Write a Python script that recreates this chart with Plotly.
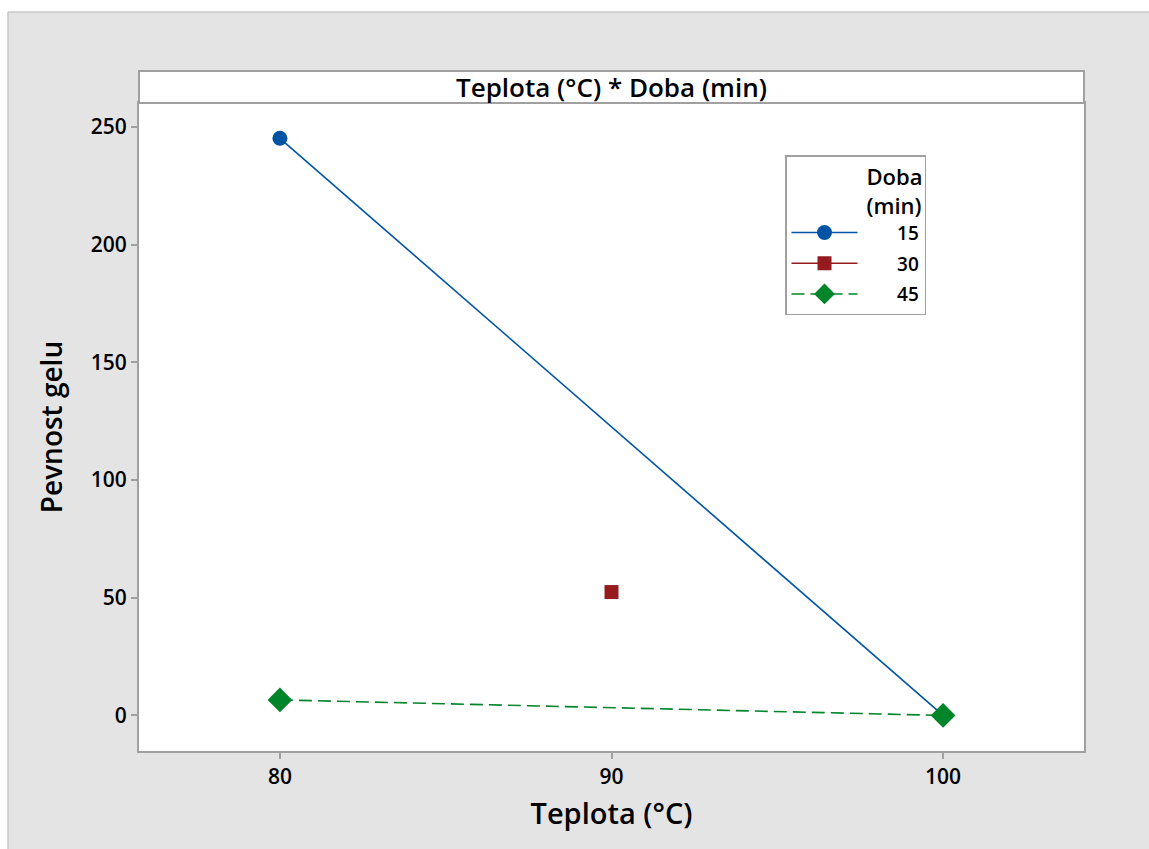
import plotly.graph_objects as go

# Interaction plot data: gel strength vs temperature for each time level
teplota_15 = [80, 100]
pevnost_15 = [245.1, 0.0]
teplota_30 = [90]
pevnost_30 = [52.4]
teplota_45 = [80, 100]
pevnost_45 = [6.6, 0.0]

x_ticks = [80, 90, 100]
y_ticks = [0, 50, 100, 150, 200, 250]

W, H = 1149, 849
ML, MR, MT, MB = 139, 65, 103, 98
PW, PH = W - ML - MR, H - MT - MB


def px_x(px):
    return (px - ML) / PW


def px_y(py):
    return (H - MB - py) / PH


FONT = "Open Sans"
BLUE = "#0054A6"
RED = "#961B1E"
GREEN = "#00852A"
AXIS = "#A0A0A0"
PAD = "\u00a0" * 7  # pushes legend labels to the right edge of the box

fig = go.Figure()
fig.add_trace(go.Scatter(
    x=teplota_15, y=pevnost_15, name=PAD + "15", mode="lines+markers",
    legendgroup="g15",
    line=dict(color=BLUE, width=1.6),
    marker=dict(symbol="circle", size=15, color=BLUE),
))
fig.add_trace(go.Scatter(
    x=teplota_30, y=pevnost_30, name=PAD + "30", mode="lines+markers",
    legendgroup="g30",
    line=dict(color=RED, width=1.6),
    marker=dict(symbol="square", size=14, color=RED),
))
fig.add_trace(go.Scatter(
    x=teplota_45, y=pevnost_45, name=PAD + "45", mode="lines+markers",
    legendgroup="g45",
    line=dict(color=GREEN, width=1.6, dash="13px,6px"),
    marker=dict(symbol="diamond", size=19, color=GREEN),
))

shapes = [
    # white page edges around the gray panel
    dict(type="rect", xref="paper", yref="paper", layer="below",
         x0=px_x(0), x1=px_x(W), y0=px_y(0), y1=px_y(12),
         fillcolor="white", line=dict(width=0)),
    dict(type="rect", xref="paper", yref="paper", layer="below",
         x0=px_x(0), x1=px_x(8), y0=px_y(0), y1=px_y(H),
         fillcolor="white", line=dict(width=0)),
    dict(type="line", xref="paper", yref="paper", layer="below",
         x0=px_x(8), x1=px_x(W), y0=px_y(12), y1=px_y(12),
         line=dict(color="#C8C8C8", width=1.5)),
    dict(type="line", xref="paper", yref="paper", layer="below",
         x0=px_x(8), x1=px_x(8), y0=px_y(12), y1=px_y(H),
         line=dict(color="#C8C8C8", width=1.5)),
    # title strip above the panel
    dict(type="rect", xref="paper", yref="paper",
         x0=0, x1=1, y0=1, y1=px_y(71),
         fillcolor="white", line=dict(color=AXIS, width=2)),
]

fig.update_layout(
    width=W, height=H,
    margin=dict(l=ML, r=MR, t=MT, b=MB, pad=0),
    paper_bgcolor="#E4E4E4",
    plot_bgcolor="white",
    font=dict(family=FONT, color="black"),
    shapes=shapes,
    annotations=[dict(
        text="Teplota (°C) * Doba (min)", xref="paper", yref="paper",
        x=0.5, y=px_y(87), xanchor="center", yanchor="middle",
        showarrow=False, font=dict(family=FONT, size=26, weight=600),
    )],
    showlegend=True,
    legend=dict(
        x=px_x(785), y=px_y(155), xanchor="left", yanchor="top",
        bgcolor="white", bordercolor=AXIS, borderwidth=1.5,
        font=dict(family=FONT, size=19, weight=600),
        title=dict(text="Doba<br>(min)", side="top right",
                   font=dict(family=FONT, size=22, weight=600)),
        itemwidth=66, tracegroupgap=3,
    ),
)

fig.update_xaxes(
    range=[75.75, 104.25], tickvals=x_ticks,
    showgrid=False, zeroline=False,
    showline=True, mirror=True, linecolor=AXIS, linewidth=2,
    ticks="outside", ticklen=6, tickcolor=AXIS, tickwidth=1.5,
    tickfont=dict(family=FONT, size=21, weight=600),
    title=dict(text="Teplota (°C)", font=dict(family=FONT, size=29, weight=600),
               standoff=14),
)
fig.update_yaxes(
    range=[-15.1, 260.1], tickvals=y_ticks,
    showgrid=False, zeroline=False,
    showline=True, mirror=True, linecolor=AXIS, linewidth=2,
    ticks="outside", ticklen=6, tickcolor=AXIS, tickwidth=1.5,
    tickfont=dict(family=FONT, size=21, weight=600),
    title=dict(text="Pevnost gelu", font=dict(family=FONT, size=28, weight=600),
               standoff=20),
)

fig.write_html("out.html")
